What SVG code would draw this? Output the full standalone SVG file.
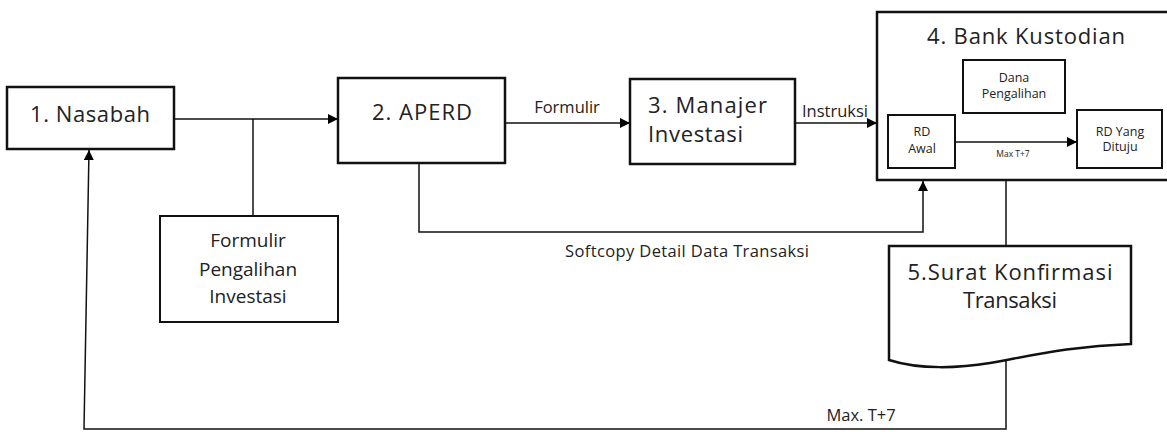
<svg xmlns="http://www.w3.org/2000/svg" width="1167" height="432" viewBox="0 0 1167 432">
<defs>
<marker id="arr" viewBox="0 0 10 10" refX="10" refY="5" markerWidth="10" markerHeight="10" markerUnits="userSpaceOnUse" orient="auto">
<path d="M0,0 L10,5 L0,10 z" fill="#000"/>
</marker>
<style>
.box{fill:#fff;stroke:#111;stroke-width:2.5}
.sbox{fill:#fff;stroke:#111;stroke-width:2}
.con{fill:none;stroke:#111;stroke-width:1.5}
text{font-family:"Open Sans","Liberation Sans",sans-serif;fill:#222}
.big{font-size:22px}
.mid{font-size:19px}
.lab{font-size:16.5px}
.sm{font-size:12.5px}
.xs{font-size:8.5px}
</style>
</defs>
<rect width="1167" height="432" fill="#fff"/>
<g id="nasabah">
<rect class="box" x="7" y="87" width="167" height="62"/>
<text class="big" x="90" y="122" text-anchor="middle" textLength="120">1. Nasabah</text>
</g>
<g id="formulir-pengalihan">
<rect class="sbox" x="160" y="216" width="178" height="106"/>
<text class="mid" x="248" y="247" text-anchor="middle">Formulir</text>
<text class="mid" x="248" y="276" text-anchor="middle">Pengalihan</text>
<text class="mid" x="248" y="303" text-anchor="middle">Investasi</text>
</g>
<g id="aperd">
<rect class="box" x="338" y="78" width="167" height="85"/>
<text class="big" x="422" y="120" text-anchor="middle" textLength="100">2. APERD</text>
</g>
<g id="manajer">
<rect class="box" x="630" y="79" width="165" height="85"/>
<text class="big" x="648" y="113" textLength="119">3. Manajer</text>
<text class="big" x="648" y="142" textLength="95">Investasi</text>
</g>
<g id="bank">
<rect class="box" x="877" y="12" width="300" height="168"/>
<text class="big" x="1026" y="44" text-anchor="middle" textLength="198">4. Bank Kustodian</text>
</g>
<g id="dana-pengalihan">
<rect class="sbox" x="963" y="60" width="102" height="53"/>
<text class="sm" x="1014" y="82" text-anchor="middle">Dana</text>
<text class="sm" x="1014" y="98" text-anchor="middle">Pengalihan</text>
</g>
<g id="rd-awal">
<rect class="sbox" x="888" y="115" width="67" height="53"/>
<text class="sm" x="922" y="136" text-anchor="middle">RD</text>
<text class="sm" x="922" y="153" text-anchor="middle">Awal</text>
</g>
<g id="rd-dituju">
<rect class="sbox" x="1077" y="110" width="85" height="58"/>
<text class="sm" x="1120" y="136" text-anchor="middle">RD Yang</text>
<text class="sm" x="1120" y="151" text-anchor="middle">Dituju</text>
</g>
<g id="surat-konfirmasi">
<path class="box" d="M889,246 H1131 V344 C1070,346 1030,356 990,363 C960,368 920,370 889,360 Z"/>
<text class="big" x="1010" y="280" text-anchor="middle" textLength="205">5.Surat Konfirmasi</text>
<text class="big" x="1010" y="308" text-anchor="middle" textLength="94">Transaksi</text>
</g>
<g id="connectors">
<path class="con" d="M174,119 H338" marker-end="url(#arr)"/>
<path class="con" d="M253,119 V216"/>
<path class="con" d="M505,123 H630" marker-end="url(#arr)"/>
<path class="con" d="M795,123 H877" marker-end="url(#arr)"/>
<path class="con" d="M419,163 V232 H923 V181" marker-end="url(#arr)"/>
<path class="con" d="M955,142 H1077" marker-end="url(#arr)"/>
<path class="con" d="M1006,180 V246"/>
<path class="con" d="M1006,361 V429 H84 L89,150" marker-end="url(#arr)"/>
<text class="lab" x="567" y="113" text-anchor="middle">Formulir</text>
<text class="lab" x="835" y="117" text-anchor="middle">Instruksi</text>
<text class="lab" x="687" y="257" text-anchor="middle" textLength="244">Softcopy Detail Data Transaksi</text>
<text class="xs" x="1013" y="157" text-anchor="middle">Max T+7</text>
<text class="lab" x="861" y="421" text-anchor="middle">Max. T+7</text>
</g>
</svg>
